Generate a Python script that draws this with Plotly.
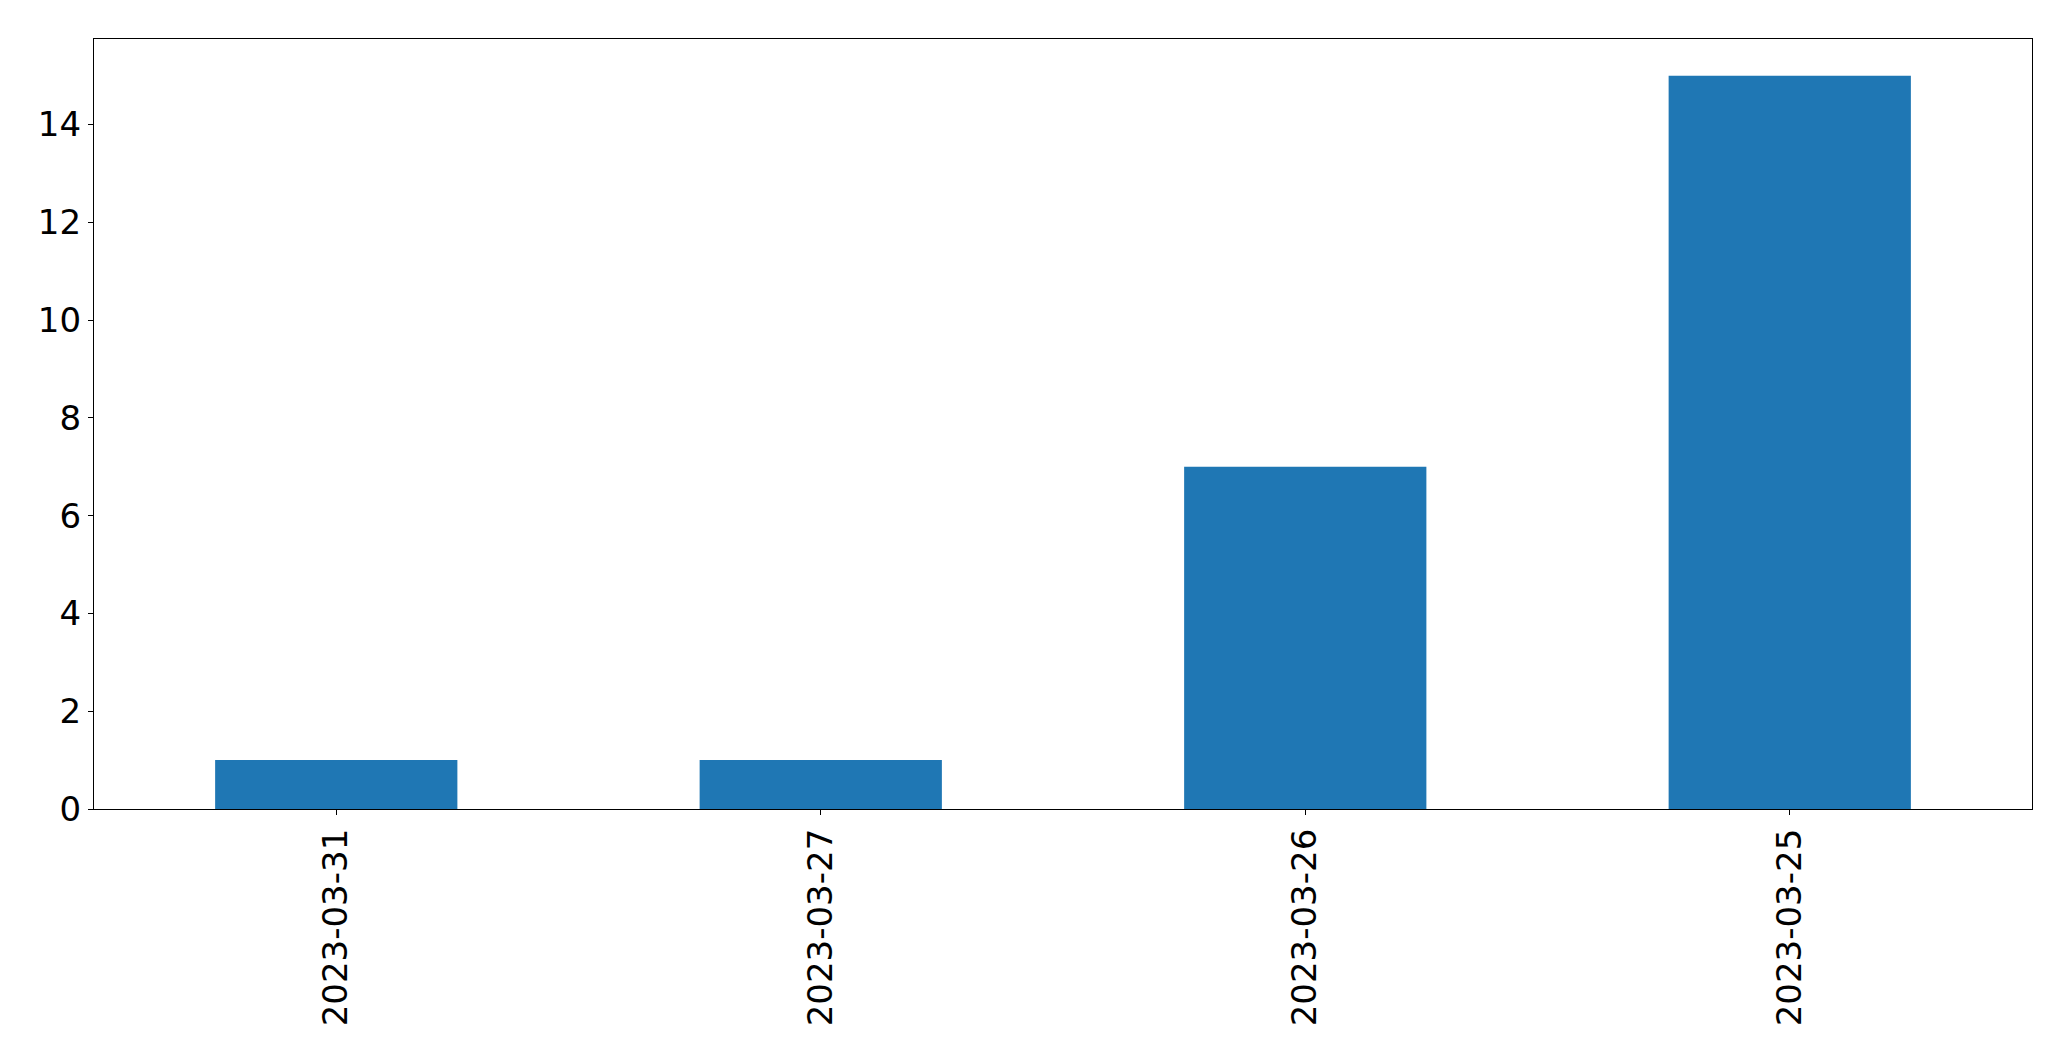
import plotly.graph_objects as go

categories = ["2023-03-31", "2023-03-27", "2023-03-26", "2023-03-25"]
counts = [1, 1, 7, 15]
y_ticks = [0, 2, 4, 6, 8, 10, 12, 14]

fig = go.Figure(
    go.Bar(x=categories, y=counts, marker=dict(color="#1f77b4", line=dict(width=0)))
)

font = dict(family="DejaVu Sans", size=34, color="black")

# page body has an 8px margin; compensate so the plot area lands where the reference has it
fig.update_layout(
    width=2055,
    height=1045,
    margin=dict(l=86, r=31, t=31, b=244, pad=0),
    paper_bgcolor="white",
    plot_bgcolor="white",
    bargap=0.5,
    showlegend=False,
    font=font,
)
fig.update_xaxes(
    type="category",
    categoryorder="array",
    categoryarray=categories,
    range=[-0.5, 3.5],
    tickangle=-90,
    ticks="outside",
    ticklen=5,
    tickwidth=1.3,
    tickcolor="black",
    showline=True,
    linecolor="black",
    linewidth=1.3,
    mirror=True,
    showgrid=False,
    zeroline=False,
    tickfont=font,
)
fig.update_yaxes(
    range=[0, 15.75],
    tickvals=y_ticks,
    ticktext=[str(v) for v in y_ticks],
    ticks="outside",
    ticklen=5,
    tickwidth=1.3,
    tickcolor="black",
    showline=True,
    linecolor="black",
    linewidth=1.3,
    mirror=True,
    showgrid=False,
    zeroline=False,
    tickfont=font,
)

fig.write_html("out.html")
